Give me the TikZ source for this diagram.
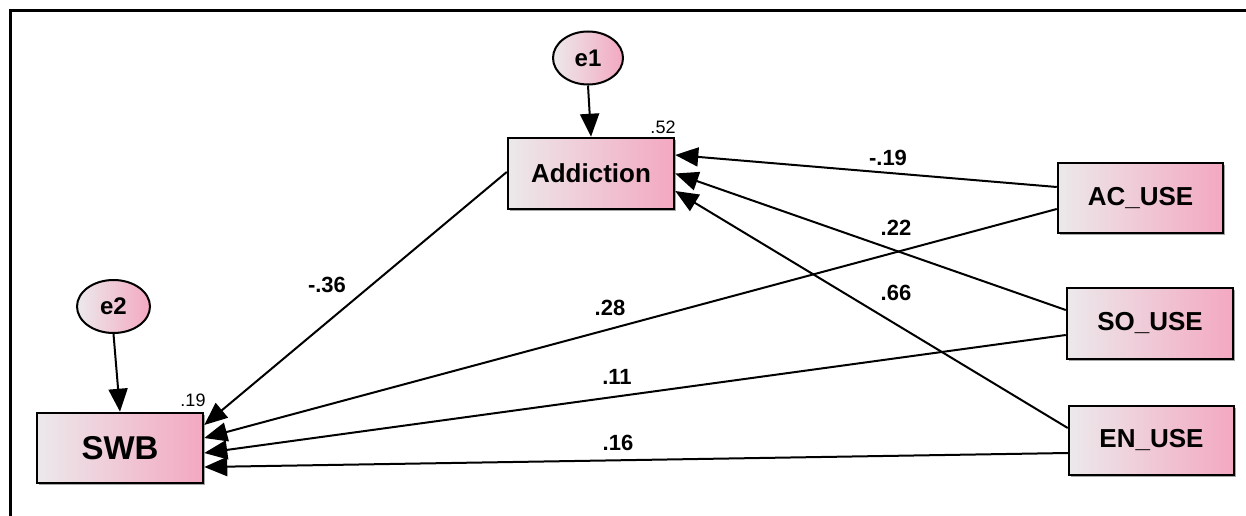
\documentclass[tikz,border=0pt]{standalone}
\usepackage{fontspec}
\setmainfont{Liberation Sans}
\usetikzlibrary{arrows.meta,shapes.geometric,shadows}
\definecolor{boxL}{RGB}{236,233,235}
\definecolor{boxR}{RGB}{243,168,193}
\tikzset{
  varbox/.style={draw=black, line width=2.5pt, rectangle, inner sep=0pt,
    left color=boxL, right color=boxR,
    drop shadow={shadow xshift=1.5pt, shadow yshift=-1.5pt, fill=gray!70, opacity=1},
    font=\bfseries\fontsize{26}{28}\selectfont},
  errnode/.style={draw=black, line width=2pt, ellipse, inner sep=0pt,
    left color=boxL, right color=boxR,
    font=\bfseries\fontsize{24}{26}\selectfont},
  path/.style={line width=2pt, -{Triangle[length=23pt, width=19pt]}},
  coef/.style={font=\bfseries\fontsize{22}{24}\selectfont, inner sep=0pt},
  rsq/.style={font=\fontsize{18}{20}\selectfont, inner sep=0pt},
}
\begin{document}
\begin{tikzpicture}[x=1pt, y=-1pt]
\useasboundingbox (0,0) rectangle (1246,516);
\fill[white] (0,0) rectangle (1246,516);
\draw[line width=3pt] (10.5,520) -- (10.5,10.5) -- (1250,10.5);

\node[varbox, minimum width=166pt, minimum height=71pt] (Add) at (591,173.5) {Addiction};
\node[varbox, minimum width=165pt, minimum height=70pt] (AC) at (1140.5,198) {AC\_USE};
\node[varbox, minimum width=166pt, minimum height=71pt] (SO) at (1150,323.5) {SO\_USE};
\node[varbox, minimum width=165pt, minimum height=69pt] (EN) at (1151.5,440.5) {EN\_USE};
\node[varbox, minimum width=166pt, minimum height=70pt, font=\bfseries\fontsize{33}{36}\selectfont] (SWB) at (120,448) {SWB};
\node[errnode, minimum width=70pt, minimum height=53pt] (e1) at (588,58) {e1};
\node[errnode, minimum width=73pt, minimum height=53pt] (e2) at (113.5,306.5) {e2};

\node[rsq] (r1) at (663,127) {.52};
\node[rsq] (r2) at (193,400) {.19};

\draw[path] (e1.south) -- (Add.north);
\draw[path] (e2.south) -- (SWB.north);
\draw[path] ([yshift=11pt]AC.west) -- ([yshift=18.5pt]Add.east);
\draw[path] ([yshift=13.5pt]SO.west) -- (Add.east);
\draw[path] ([yshift=12.5pt]EN.west) -- ([yshift=-17.5pt]Add.east);
\draw[path] ([yshift=1.5pt]Add.west) -- ([yshift=23pt]SWB.east);
\draw[path] ([yshift=-11pt]AC.west) -- ([yshift=10pt]SWB.east);
\draw[path] ([yshift=-11.5pt]SO.west) -- ([yshift=-5pt]SWB.east);
\draw[path] ([yshift=-12.5pt]EN.west) -- ([yshift=-19pt]SWB.east);

\node[coef] (c1) at (888,158) {-.19};
\node[coef] (c2) at (896,228) {.22};
\node[coef] (c3) at (896,293) {.66};
\node[coef] (c4) at (327,285) {-.36};
\node[coef] (c5) at (610,308) {.28};
\node[coef] (c6) at (617,377) {.11};
\node[coef] (c7) at (618,443) {.16};
\end{tikzpicture}
\end{document}
